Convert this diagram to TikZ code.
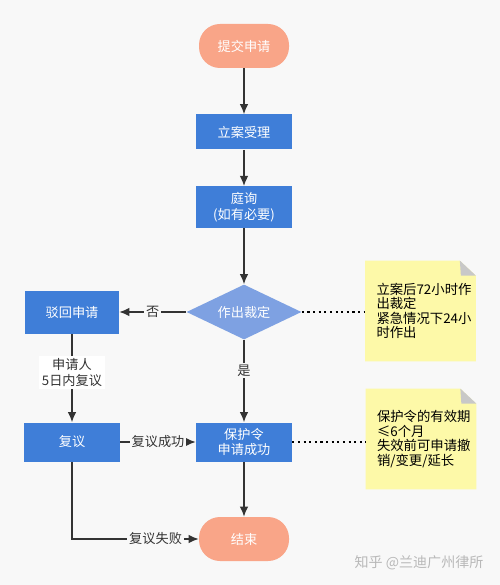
\documentclass[tikz,border=0pt]{standalone}
\usepackage{fontspec}
\setmainfont{Noto Sans CJK SC}
\usepackage{xcolor}
\usepackage{tikz}
\usetikzlibrary{shapes.geometric,arrows.meta}
\definecolor{bgcolor}{HTML}{F8F8F8}
\definecolor{stepcolor}{HTML}{3F7ED8}
\definecolor{choicecolor}{HTML}{7EA1E2}
\definecolor{endcolor}{HTML}{F9A588}
\definecolor{notecolor}{HTML}{FDF9A8}
\definecolor{foldcolor}{HTML}{C8C8C8}
\definecolor{linecolor}{HTML}{333333}

\begin{document}
\begin{tikzpicture}[
  stepbox/.style={draw=none, rectangle, fill=stepcolor, text=white, align=center, minimum width=1.92cm, font=\fontsize{7.5}{9}\selectfont},
  endbox/.style={draw=none, rectangle, rounded corners=0.42cm, fill=endcolor, text=white, minimum width=1.8cm, minimum height=0.88cm, font=\fontsize{7.5}{9}\selectfont},
  notebox/.style={rectangle, minimum width=2.2cm, minimum height=2cm, text width=1.84cm, align=left, font=\fontsize{7.6}{8.2}\selectfont},
  flow/.style={draw=linecolor, line width=0.7pt, -{Latex[length=2mm,width=1.7mm]}},
  tag/.style={fill=bgcolor, text=linecolor, inner sep=1pt, font=\fontsize{7.5}{9}\selectfont},
  link/.style={draw=black, line width=1.2pt, dotted}
]%
\fill[bgcolor] (0,0) rectangle (10,-11.7);%
\useasboundingbox (0,0) rectangle (10,-11.7);%
% main column
\node[endbox] (start) at (4.88, -0.92) {提交申请};%
\node[stepbox, minimum height=0.70cm] (accept) at (4.88, -2.64) {立案受理};%
\node[stepbox, minimum height=0.76cm] (hearing) at (4.88, -4.14) {庭询\\(如有必要)};%
\node[diamond, fill=choicecolor, text=white, inner sep=0pt, aspect=2.1, minimum width=2.3cm, minimum height=1.1cm, font=\fontsize{7.5}{9}\selectfont] (decide) at (4.88, -6.24) {作出裁定};%
\node[stepbox, minimum height=0.78cm, inner sep=1pt] (order) at (4.88, -8.84) {保护令\\申请成功};%
\node[endbox] (finish) at (4.88, -10.78) {结束};%
% left column
\node[stepbox, minimum width=1.88cm, minimum height=0.86cm] (reject) at (1.44, -6.24) {驳回申请};%
\node[stepbox, minimum height=0.78cm] (review) at (1.44, -8.84) {复议};%
% notes
\node[notebox] (note1) at (8.41, -6.22) {};%
\node[notebox] (note2) at (8.42, -8.78) {};%
\foreach \n in {note1, note2} {%
  \fill[notecolor] (\n.south west) -- (\n.north west) -- ([xshift=-0.32cm]\n.north east) -- ([yshift=-0.3cm]\n.north east) -- (\n.south east) -- cycle;%
  \fill[foldcolor] ([xshift=-0.32cm]\n.north east) -- ([yshift=-0.3cm]\n.north east) -- ([xshift=-0.3cm, yshift=-0.3cm]\n.north east) -- cycle;%
}%
\node[notebox] at ([xshift=0.04cm]note1) {立案后72小时作\\出裁定\\紧急情况下24小\\时作出};%
\node[notebox] at ([xshift=0.04cm]note2) {保护令的有效期\\≤6个月\\失效前可申请撤\\销/变更/延长};%
% connectors
\draw[flow] (start) -- (accept);%
\draw[flow] (accept) -- (hearing);%
\draw[flow] (hearing) -- (decide);%
\draw[flow] (decide) -- node[tag] {否} (reject);%
\draw[flow] (decide) -- node[tag, pos=0.37] {是} (order);%
\draw[flow] (reject) -- node[tag, fill=white, align=center, pos=0.44, inner sep=1.5pt] {申请人\\5日内复议} (review);%
\draw[flow] (review) -- node[tag] {复议成功} (order);%
\draw[flow] (review.south) |- node[tag, pos=0.83] {复议失败} (finish.west);%
\draw[flow] (order) -- (finish);%
\draw[link] (decide.east) -- (decide.east -| note1.west);%
\draw[link] (order.east) -- (order.east -| note2.west);%
% watermark
\node[text=black!28, font=\fontsize{8}{9}\selectfont] (mark) at (8.38, -11.26) {知乎 @兰迪广州律所};%
\end{tikzpicture}
\end{document}
